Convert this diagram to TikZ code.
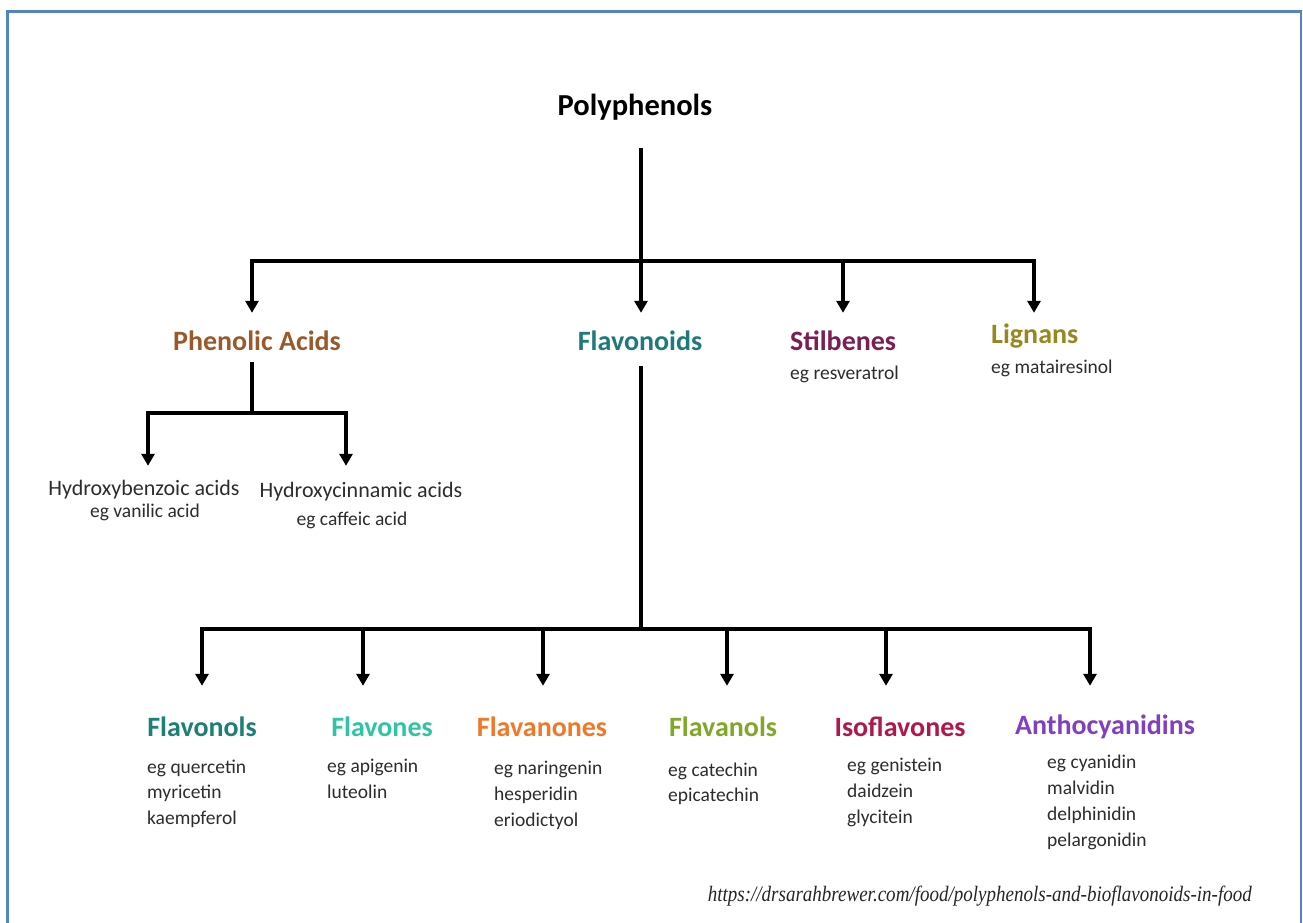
\documentclass[tikz,border=0pt]{standalone}
\usepackage{fontspec}
\setmainfont{Carlito}
\newfontfamily\urlfont{Liberation Serif}
\usetikzlibrary{arrows.meta}
\definecolor{bordercol}{RGB}{84,132,196}
\definecolor{phencol}{RGB}{152,90,42}
\definecolor{flavcol}{RGB}{30,122,122}
\definecolor{stilcol}{RGB}{122,30,84}
\definecolor{ligncol}{RGB}{150,136,30}
\definecolor{flonolcol}{RGB}{28,128,118}
\definecolor{flonecol}{RGB}{48,196,164}
\definecolor{flanonecol}{RGB}{240,120,40}
\definecolor{flanolcol}{RGB}{128,168,40}
\definecolor{isocol}{RGB}{176,24,76}
\definecolor{anthocol}{RGB}{128,64,192}
\definecolor{itemgray}{RGB}{45,45,45}
\begin{document}
\begin{tikzpicture}[x=1pt,y=-1pt,
  conn/.style={line width=3.9pt, draw=black},
  arr/.style={conn, -{Triangle[width=13pt,length=12pt]}},
  head/.style={font=\bfseries\fontsize{28}{30}\selectfont, inner sep=0pt, text height=20pt, text depth=6pt, anchor=base},
  subhead/.style={font=\fontsize{22}{24}\selectfont, text=itemgray, inner sep=0pt, text height=16pt, text depth=5pt, anchor=base},
  item/.style={font=\fontsize{19.5}{22}\selectfont, text=itemgray, inner sep=0pt, anchor=base west},
  border/.style={draw=bordercol, line width=2.5pt}
]
\useasboundingbox (0,0) rectangle (1303,923);
\fill[white] (0,0) rectangle (1303,923);
\draw[border] (7.5,923) -- (7.5,11.5) -- (1301,11.5) -- (1301,923);

% top
\node[head, font=\bfseries\fontsize{30.5}{32}\selectfont, text=black] (poly) at (635,116) {Polyphenols};

\node[head, text=phencol] (phen) at (257,350) {Phenolic Acids};
\node[head, text=flavcol] (flav) at (640,350) {Flavonoids};
\node[head, text=stilcol, anchor=base west] (stil) at (790,350) {Stilbenes};
\node[head, text=ligncol, anchor=base west] (lign) at (991,343) {Lignans};
\node[item] (stileg) at (790,379) {eg resveratrol};
\node[item] (ligneg) at (991,373) {eg matairesinol};

% phenolic acids children
\node[subhead] (hb) at (144,495) {Hydroxybenzoic acids};
\node[subhead] (hbeg) at (145,517) {\fontsize{19.5}{22}\selectfont eg vanilic acid};
\node[subhead] (hc) at (361,497) {Hydroxycinnamic acids};
\node[subhead] (hceg) at (352,525) {\fontsize{19.5}{22}\selectfont eg caffeic acid};

% flavonoid children
\node[head, text=flonolcol] (fonol) at (202,736) {Flavonols};
\node[head, text=flonecol] (fone) at (382,736) {Flavones};
\node[head, text=flanonecol] (fanone) at (542,736) {Flavanones};
\node[head, text=flanolcol] (fanol) at (723,736) {Flavanols};
\node[head, text=isocol] (iso) at (900,736) {Isoflavones};
\node[head, text=anthocol] (antho) at (1105,734) {Anthocyanidins};

\node[item] (fonol1) at (147,773) {eg quercetin};
\node[item] (fonol2) at (147,798) {myricetin};
\node[item] (fonol3) at (147,824) {kaempferol};
\node[item] (fone1) at (327,772) {eg apigenin};
\node[item] (fone2) at (327,798) {luteolin};
\node[item] (fanone1) at (494,774) {eg naringenin};
\node[item] (fanone2) at (494,800) {hesperidin};
\node[item] (fanone3) at (494,826) {eriodictyol};
\node[item] (fanol1) at (668,776) {eg catechin};
\node[item] (fanol2) at (668,801) {epicatechin};
\node[item] (iso1) at (847,771) {eg genistein};
\node[item] (iso2) at (847,797) {daidzein};
\node[item] (iso3) at (847,823) {glycitein};
\node[item] (antho1) at (1047,768) {eg cyanidin};
\node[item] (antho2) at (1047,794) {malvidin};
\node[item] (antho3) at (1047,820) {delphinidin};
\node[item] (antho4) at (1047,846) {pelargonidin};

\node[anchor=base east, inner sep=0pt, font=\urlfont\itshape\fontsize{22}{24}\selectfont, text=black!85] (url) at (1252,901)
  {\resizebox{544pt}{\height}{https://drsarahbrewer.com/food/polyphenols-and-bioflavonoids-in-food}};

% connectors: top level
\coordinate (pj) at (641,261);
\coordinate (pl) at (252,261);
\coordinate (ps) at (843,261);
\coordinate (pr) at (1034,261);
\draw[conn, shorten <=26pt] (poly.south -| pj) -- (pj);
\draw[conn, line cap=rect] (pl) -- (pr);
\draw[arr, shorten >=17pt] (pl) -- (pl |- phen.north);
\draw[arr, shorten >=17pt] (pj) -- (pj |- flav.north);
\draw[arr, shorten >=17pt] (ps) -- (ps |- stil.north);
\draw[arr, shorten >=10pt] (pr) -- (pr |- lign.north);

% phenolic acids branch
\coordinate (aj) at (252,413);
\coordinate (a1) at (148,413);
\coordinate (a2) at (346,413);
\draw[conn, shorten <=6pt] (phen.south -| aj) -- (aj);
\draw[conn, line cap=rect] (a1) -- (a2);
\draw[arr, shorten >=13pt] (a1) -- (a1 |- hb.north);
\draw[arr, shorten >=15pt] (a2) -- (a2 |- hc.north);

% flavonoids branch
\coordinate (fj) at (641,629);
\coordinate (f1) at (202,629);
\coordinate (f2) at (363,629);
\coordinate (f3) at (543,629);
\coordinate (f4) at (727,629);
\coordinate (f5) at (886,629);
\coordinate (f6) at (1090,629);
\draw[conn, shorten <=10pt] (flav.south -| fj) -- (fj);
\draw[conn, line cap=rect] (f1) -- (f6);
\draw[arr, shorten >=30pt] (f1) -- (f1 |- fonol.north);
\draw[arr, shorten >=30pt] (f2) -- (f2 |- fone.north);
\draw[arr, shorten >=30pt] (f3) -- (f3 |- fanone.north);
\draw[arr, shorten >=30pt] (f4) -- (f4 |- fanol.north);
\draw[arr, shorten >=30pt] (f5) -- (f5 |- iso.north);
\draw[arr, shorten >=28pt] (f6) -- (f6 |- antho.north);
\end{tikzpicture}
\end{document}
